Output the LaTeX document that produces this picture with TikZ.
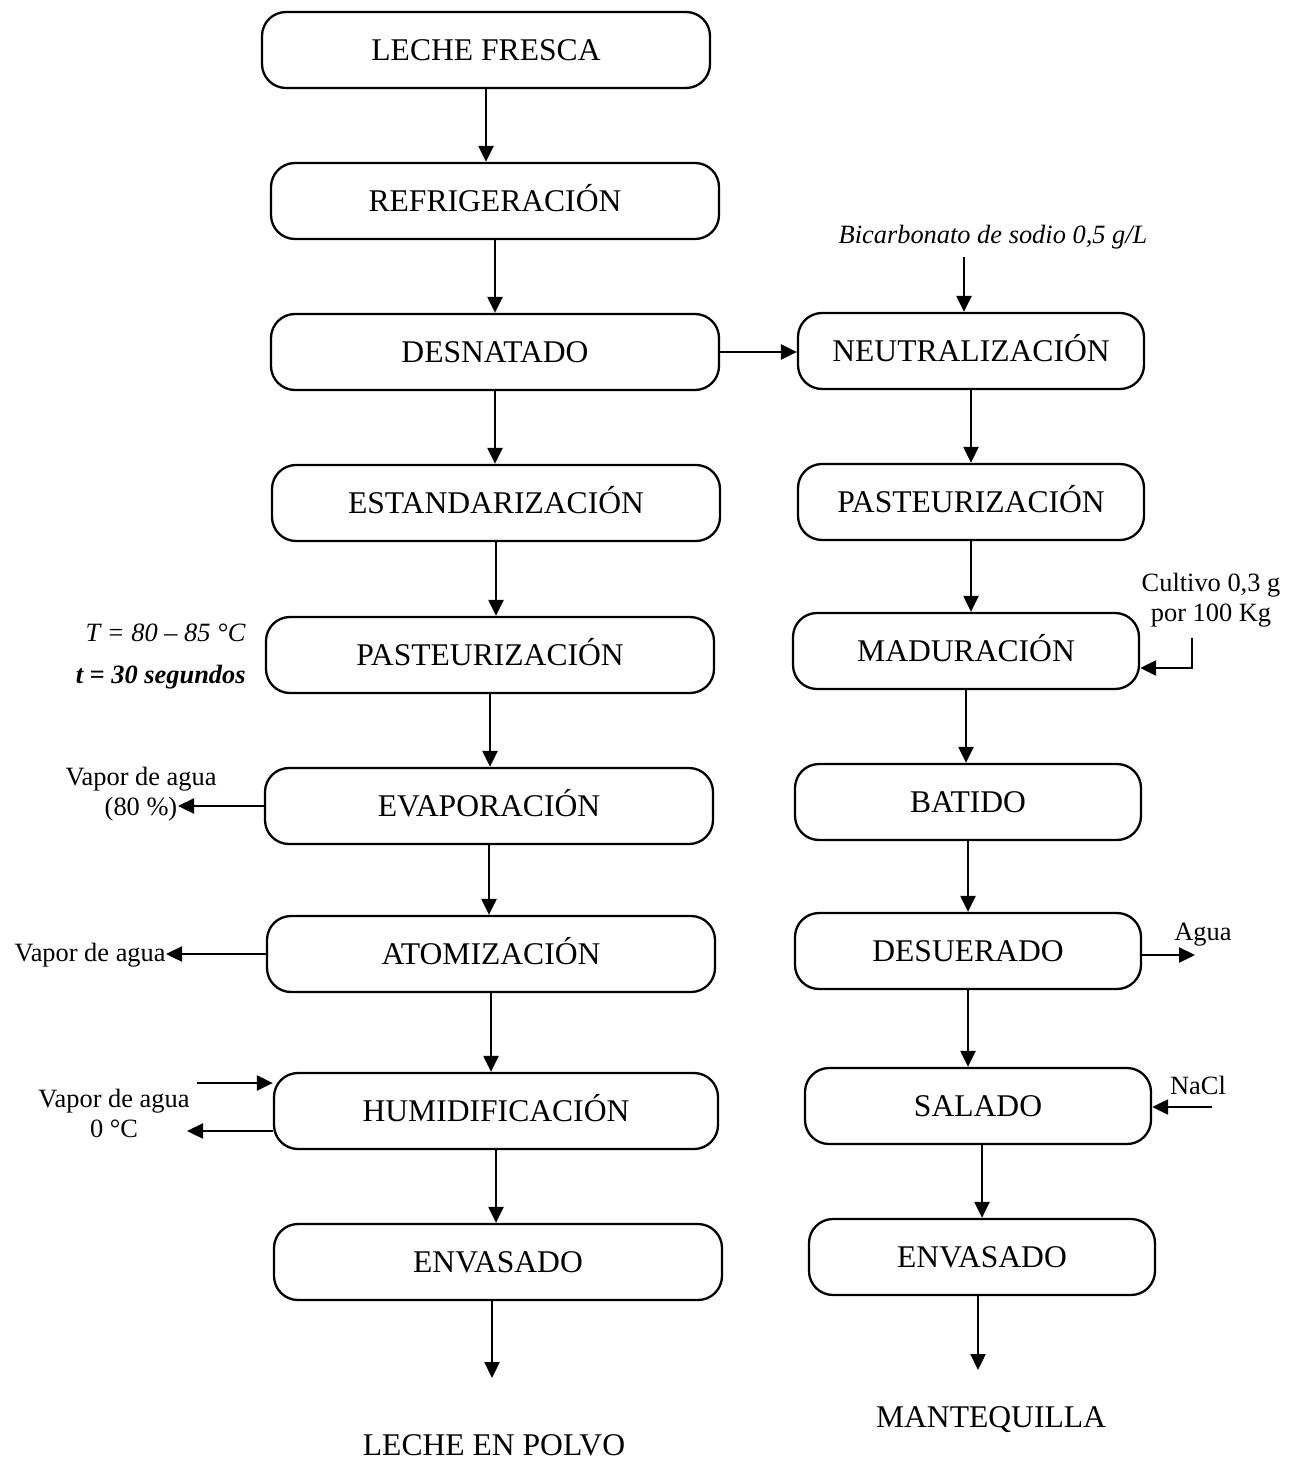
\documentclass[tikz,border=0pt]{standalone}
\usepackage{fontspec}
\setmainfont{Liberation Serif}
\usetikzlibrary{arrows.meta}
\begin{document}
\begin{tikzpicture}[x=0.5pt,y=-0.5pt,
  box/.style={draw, line width=1.15pt, rounded corners=12pt, minimum height=38pt, inner sep=0pt, text height=10.4pt, text depth=0pt, font=\fontsize{15.8}{18}\selectfont},
  lbox/.style={box, minimum width=224pt},
  rbox/.style={box, minimum width=173pt},
  arr/.style={line width=1.15pt, -{Triangle[length=8pt,width=7.5pt]}},
  side/.style={font=\fontsize{13.2}{15}\selectfont, inner sep=0pt, align=center},
  endtxt/.style={font=\fontsize{15.8}{18}\selectfont, inner sep=0pt}]
\useasboundingbox (0,0) rectangle (1300,1460);
% left column
\node[lbox] (lf) at (486,50) {LECHE FRESCA};
\node[lbox] (re) at (495,201) {REFRIGERACIÓN};
\node[lbox] (de) at (495,352) {DESNATADO};
\node[lbox] (es) at (496,503) {ESTANDARIZACIÓN};
\node[lbox] (pa) at (490,655) {PASTEURIZACIÓN};
\node[lbox] (ev) at (489,806) {EVAPORACIÓN};
\node[lbox] (at) at (491,954) {ATOMIZACIÓN};
\node[box, minimum width=222pt] (hu) at (496,1111) {HUMIDIFICACIÓN};
\node[lbox] (en) at (498,1262) {ENVASADO};
\node[endtxt] (lp) at (494,1445) {LECHE EN POLVO};
\coordinate (lpend) at (492,1378);
% right column
\node[rbox] (ne) at (971,351) {NEUTRALIZACIÓN};
\node[rbox] (p2) at (971,502) {PASTEURIZACIÓN};
\node[rbox] (ma) at (966,651) {MADURACIÓN};
\node[rbox] (ba) at (968,802) {BATIDO};
\node[rbox] (du) at (968,951) {DESUERADO};
\node[rbox] (sa) at (978,1106) {SALADO};
\node[rbox] (e2) at (982,1257) {ENVASADO};
\node[endtxt] (mt) at (991,1420) {MANTEQUILLA};
\coordinate (mtend) at (978,1370);
% side labels
\node[side, font=\fontsize{13.2}{15}\selectfont\itshape] (bi) at (993,237) {Bicarbonato de sodio 0,5 g/L};
\coordinate (bis) at (964,257);
\node[side, align=right, anchor=east] (tt) at (246,657) {\textit{T = 80 – 85 °C}\\[6pt]\textbf{\textit{t = 30 segundos}}};
\node[side] (v1) at (141,794) {Vapor de agua\\(80 \%)};
\coordinate (v1e) at (178,806);
\node[side, anchor=east] (v2) at (166,955) {Vapor de agua};
\node[side] (v3) at (114,1113) {Vapor de agua\\0 °C};
\coordinate (v3a) at (197,1083);
\coordinate (v3b) at (187,1131);
\node[side] (cu) at (1211,600) {Cultivo 0,3 g\\por 100 Kg};
\coordinate (cua) at (1192,638);
\coordinate (cub) at (1192,668);
\node[side] (ag) at (1203,935) {Agua};
\coordinate (age) at (1195,955);
\node[side] (na) at (1198,1085) {NaCl};
\coordinate (nas) at (1212,1107);
% left arrows
\draw[arr] (lf.south) -- (lf.south |- re.north);
\draw[arr] (re.south) -- (re.south |- de.north);
\draw[arr] (de.south) -- (de.south |- es.north);
\draw[arr] (es.south) -- (es.south |- pa.north);
\draw[arr] (pa.south) -- (pa.south |- ev.north);
\draw[arr] (ev.south) -- (ev.south |- at.north);
\draw[arr] (at.south) -- (at.south |- hu.north);
\draw[arr] (hu.south) -- (hu.south |- en.north);
\draw[arr] (lpend |- en.south) -- (lpend);
% right arrows
\draw[arr] (de.east) -- (de.east -| ne.west);
\draw[arr] (bis) -- (bis |- ne.north);
\draw[arr] (ne.south) -- (ne.south |- p2.north);
\draw[arr] (p2.south) -- (p2.south |- ma.north);
\draw[arr] (ma.south) -- (ma.south |- ba.north);
\draw[arr] (ba.south) -- (ba.south |- du.north);
\draw[arr] (du.south) -- (du.south |- sa.north);
\draw[arr] (sa.south -| e2.south) -- (e2.north);
\draw[arr] (mtend |- e2.south) -- (mtend);
% side arrows
\draw[arr] (ev.west) -- (v1e);
\draw[arr] (at.west) -- (at.west -| v2.east);
\draw[arr] (v3a) -- (v3a -| hu.west);
\draw[arr] (v3b -| hu.west) -- (v3b);
\draw[arr] (cua) -- (cub) -- (cub -| ma.east);
\draw[arr] (age -| du.east) -- (age);
\draw[arr] (nas) -- (nas -| sa.east);
\end{tikzpicture}
\end{document}
